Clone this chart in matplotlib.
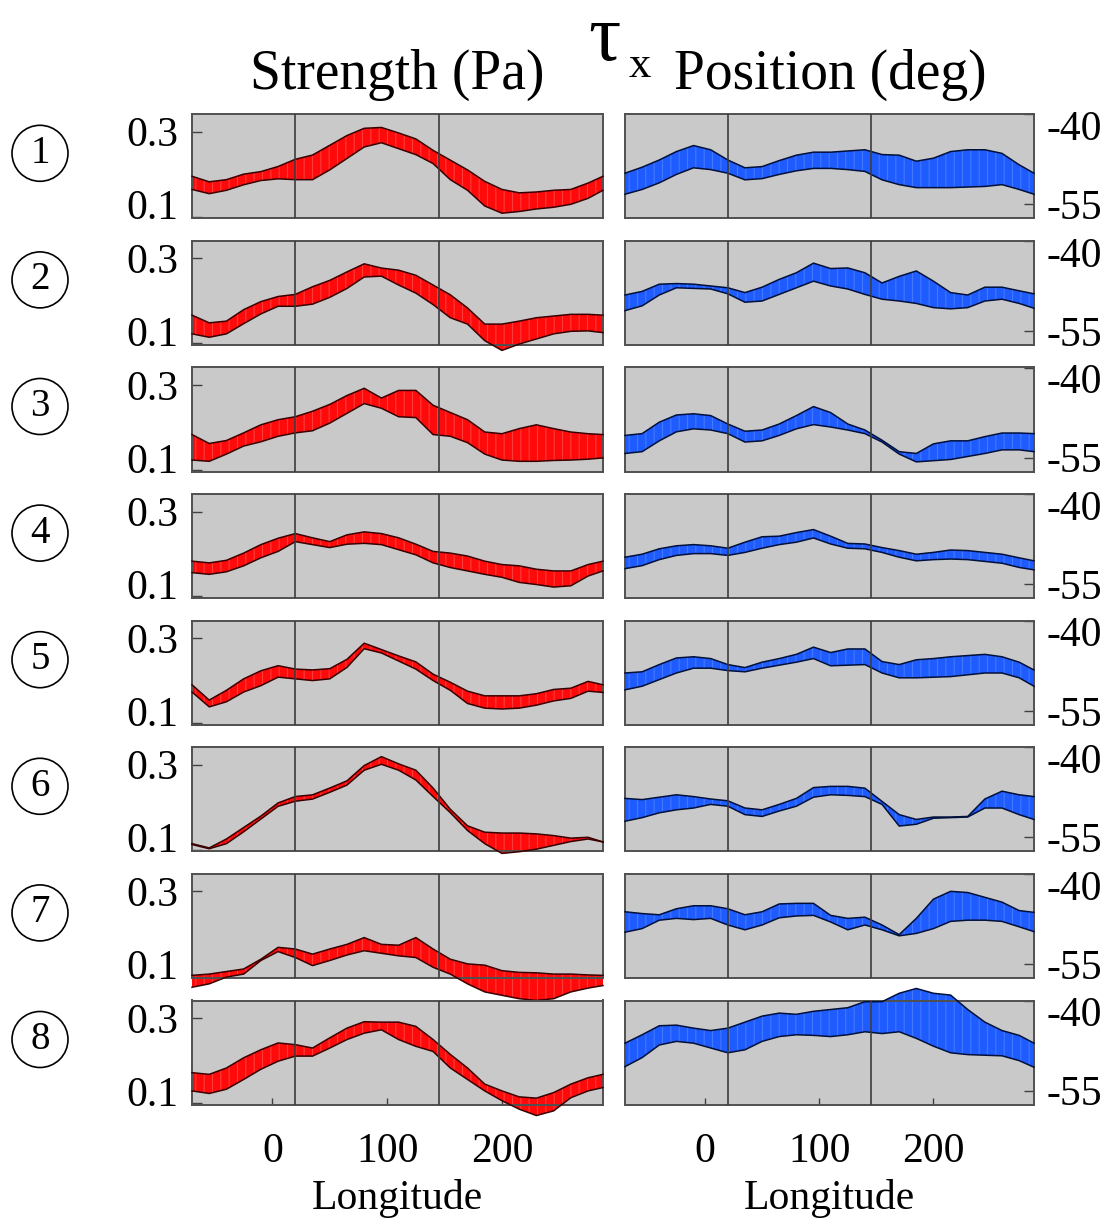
import matplotlib
matplotlib.use('Agg')
import matplotlib.pyplot as plt
from matplotlib.patches import Ellipse
from matplotlib.transforms import ScaledTranslation

plt.rcParams['font.family'] = ['Liberation Serif', 'DejaVu Serif']
plt.rcParams['hatch.linewidth'] = 0.8

# longitude grid (deg) at which the bands were read
lon = [-70, -55, -40, -25, -10, 5, 20, 35, 50, 65, 80, 95, 110, 125, 140,
       155, 170, 185, 200, 215, 230, 245, 260, 275, 288]

# tau_x strength (Pa): upper / lower edge of the band, rows 1..8
strength_hi = [
    [0.195, 0.182, 0.187, 0.200, 0.206, 0.218, 0.235, 0.245, 0.268, 0.291, 0.308, 0.310, 0.297, 0.283, 0.256, 0.233, 0.210, 0.183, 0.164, 0.156, 0.158, 0.162, 0.164, 0.179, 0.195],
    [0.166, 0.148, 0.152, 0.179, 0.198, 0.210, 0.215, 0.233, 0.248, 0.268, 0.287, 0.277, 0.272, 0.260, 0.237, 0.214, 0.183, 0.145, 0.145, 0.152, 0.160, 0.164, 0.168, 0.168, 0.166],
    [0.183, 0.162, 0.169, 0.187, 0.206, 0.218, 0.225, 0.238, 0.254, 0.275, 0.292, 0.269, 0.287, 0.287, 0.252, 0.235, 0.218, 0.189, 0.185, 0.197, 0.206, 0.197, 0.189, 0.185, 0.183],
    [0.183, 0.179, 0.185, 0.202, 0.222, 0.237, 0.248, 0.238, 0.229, 0.245, 0.252, 0.248, 0.238, 0.223, 0.206, 0.202, 0.195, 0.183, 0.175, 0.172, 0.164, 0.160, 0.160, 0.175, 0.183],
    [0.190, 0.154, 0.177, 0.204, 0.223, 0.235, 0.227, 0.225, 0.228, 0.250, 0.288, 0.273, 0.258, 0.244, 0.215, 0.196, 0.175, 0.164, 0.164, 0.164, 0.169, 0.179, 0.182, 0.198, 0.190],
    [0.114, 0.104, 0.125, 0.152, 0.179, 0.210, 0.225, 0.229, 0.245, 0.262, 0.298, 0.319, 0.302, 0.287, 0.245, 0.195, 0.156, 0.141, 0.139, 0.139, 0.137, 0.133, 0.127, 0.129, 0.118],
    [0.102, 0.105, 0.111, 0.117, 0.140, 0.168, 0.164, 0.152, 0.164, 0.175, 0.191, 0.175, 0.173, 0.191, 0.164, 0.140, 0.129, 0.126, 0.113, 0.109, 0.108, 0.105, 0.105, 0.103, 0.102],
    [0.171, 0.167, 0.182, 0.206, 0.225, 0.241, 0.237, 0.229, 0.253, 0.276, 0.291, 0.290, 0.290, 0.280, 0.249, 0.214, 0.182, 0.144, 0.128, 0.114, 0.111, 0.124, 0.144, 0.159, 0.167],
]
strength_lo = [
    [0.164, 0.154, 0.162, 0.175, 0.185, 0.189, 0.187, 0.187, 0.210, 0.237, 0.264, 0.274, 0.260, 0.246, 0.225, 0.187, 0.162, 0.125, 0.108, 0.112, 0.118, 0.122, 0.129, 0.143, 0.162],
    [0.122, 0.114, 0.122, 0.146, 0.169, 0.187, 0.187, 0.192, 0.208, 0.229, 0.256, 0.258, 0.237, 0.218, 0.191, 0.160, 0.145, 0.106, 0.083, 0.098, 0.110, 0.122, 0.128, 0.129, 0.125],
    [0.123, 0.120, 0.137, 0.156, 0.166, 0.179, 0.187, 0.192, 0.210, 0.233, 0.256, 0.245, 0.225, 0.223, 0.183, 0.179, 0.164, 0.137, 0.123, 0.120, 0.120, 0.122, 0.123, 0.125, 0.128],
    [0.156, 0.152, 0.158, 0.172, 0.191, 0.206, 0.229, 0.222, 0.215, 0.223, 0.225, 0.222, 0.210, 0.198, 0.179, 0.168, 0.160, 0.152, 0.145, 0.133, 0.128, 0.122, 0.125, 0.148, 0.160],
    [0.173, 0.138, 0.150, 0.173, 0.188, 0.208, 0.204, 0.200, 0.204, 0.231, 0.275, 0.265, 0.246, 0.227, 0.200, 0.177, 0.146, 0.135, 0.133, 0.135, 0.142, 0.152, 0.158, 0.175, 0.172],
    [0.112, 0.102, 0.114, 0.142, 0.172, 0.202, 0.214, 0.219, 0.235, 0.252, 0.287, 0.301, 0.287, 0.264, 0.225, 0.187, 0.145, 0.114, 0.091, 0.095, 0.101, 0.110, 0.119, 0.125, 0.118],
    [0.074, 0.082, 0.098, 0.105, 0.137, 0.158, 0.144, 0.125, 0.137, 0.150, 0.160, 0.154, 0.148, 0.144, 0.121, 0.105, 0.082, 0.063, 0.055, 0.047, 0.043, 0.047, 0.063, 0.072, 0.078],
    [0.128, 0.122, 0.132, 0.155, 0.179, 0.198, 0.210, 0.210, 0.229, 0.249, 0.264, 0.272, 0.249, 0.233, 0.221, 0.182, 0.155, 0.128, 0.105, 0.085, 0.070, 0.081, 0.112, 0.128, 0.136],
]

# tau_x position (deg latitude): upper / lower edge of the band, rows 1..8
position_hi = [
    [-49.8, -48.8, -47.6, -46.2, -45.2, -45.9, -47.6, -48.9, -48.7, -47.7, -46.8, -46.3, -46.3, -46.1, -45.9, -46.7, -46.8, -47.8, -47.3, -46.2, -45.9, -45.9, -46.5, -48.4, -49.8],
    [-49.0, -48.4, -47.2, -47.1, -47.2, -47.5, -47.8, -48.6, -47.7, -46.4, -45.3, -43.7, -44.6, -44.5, -45.3, -47.0, -45.9, -45.0, -46.7, -48.6, -49.0, -47.7, -47.7, -48.3, -48.8],
    [-51.3, -51.0, -49.1, -47.9, -47.7, -48.0, -49.4, -50.6, -50.4, -49.4, -48.0, -46.5, -47.5, -49.4, -50.4, -52.1, -54.0, -54.3, -52.7, -52.2, -52.2, -51.5, -50.9, -50.9, -51.0],
    [-50.5, -50.0, -49.1, -48.6, -48.4, -48.6, -49.0, -48.0, -47.1, -47.0, -46.4, -45.9, -47.0, -48.2, -48.3, -48.9, -49.4, -50.0, -49.7, -49.3, -49.4, -49.7, -50.0, -50.6, -51.1],
    [-48.7, -48.5, -47.3, -46.2, -46.0, -46.3, -47.3, -47.8, -46.9, -46.3, -45.6, -44.4, -45.3, -44.7, -44.7, -46.8, -47.3, -46.5, -46.3, -46.0, -45.8, -45.6, -46.0, -46.9, -48.2],
    [-48.5, -48.7, -48.3, -47.9, -48.2, -48.6, -48.9, -50.1, -50.4, -49.5, -48.5, -46.7, -46.5, -46.5, -46.8, -49.0, -51.2, -52.0, -51.6, -51.6, -51.5, -48.6, -47.3, -47.9, -48.2],
    [-46.3, -46.6, -46.8, -45.8, -45.3, -45.3, -45.8, -46.8, -46.3, -45.0, -44.9, -44.9, -46.9, -47.4, -47.2, -48.5, -50.1, -47.4, -44.2, -42.9, -43.1, -43.9, -44.7, -46.1, -46.4],
    [-47.1, -45.7, -44.2, -44.1, -44.6, -45.0, -44.6, -43.6, -42.6, -42.1, -42.3, -41.8, -41.5, -41.2, -40.2, -40.2, -38.8, -38.0, -38.8, -39.1, -41.5, -43.6, -45.0, -45.8, -47.1],
]
position_lo = [
    [-53.3, -52.5, -51.4, -50.0, -48.9, -49.2, -49.8, -50.9, -50.7, -50.0, -49.4, -49.0, -49.0, -49.2, -49.5, -50.9, -51.7, -52.2, -52.2, -52.2, -52.1, -52.0, -51.7, -52.5, -53.3],
    [-51.6, -50.8, -49.0, -47.8, -47.9, -48.0, -48.8, -50.2, -50.0, -48.9, -47.8, -46.7, -47.5, -48.0, -48.9, -49.7, -50.0, -50.4, -51.1, -51.3, -51.1, -50.0, -49.7, -50.4, -51.2],
    [-54.3, -54.0, -52.2, -50.7, -50.2, -50.4, -51.0, -52.4, -52.2, -51.3, -50.2, -49.5, -49.9, -50.4, -51.0, -52.4, -54.4, -55.7, -55.5, -55.3, -54.8, -54.3, -53.7, -53.7, -54.0],
    [-52.4, -51.9, -50.9, -50.2, -49.9, -49.9, -50.2, -49.7, -49.0, -48.4, -48.0, -47.3, -48.3, -49.0, -49.1, -49.7, -50.5, -51.1, -50.9, -50.8, -50.9, -51.2, -51.5, -52.2, -52.6],
    [-51.5, -50.9, -49.8, -48.7, -47.9, -47.9, -48.3, -48.5, -47.9, -47.4, -46.9, -46.3, -47.5, -47.4, -47.3, -48.7, -49.5, -49.5, -49.4, -49.3, -49.0, -48.7, -48.7, -49.5, -50.9],
    [-52.3, -51.7, -50.9, -50.4, -50.1, -49.5, -49.8, -51.2, -51.5, -50.6, -49.8, -48.3, -47.9, -48.0, -48.2, -49.5, -53.1, -52.8, -51.8, -51.7, -51.6, -50.1, -50.1, -51.2, -52.0],
    [-49.7, -49.1, -47.7, -47.4, -47.6, -47.4, -48.5, -49.3, -48.5, -47.3, -47.0, -46.9, -48.0, -49.3, -48.5, -49.3, -50.3, -49.9, -49.1, -47.9, -47.7, -47.7, -47.9, -48.8, -49.6],
    [-51.0, -49.5, -47.4, -46.8, -47.1, -47.9, -48.7, -48.2, -46.8, -46.0, -45.7, -45.8, -46.0, -45.7, -45.2, -45.5, -45.2, -46.3, -47.6, -48.7, -49.0, -49.1, -49.2, -50.0, -51.1],
]

row_names = ['1', '2', '3', '4', '5', '6', '7', '8']
ridges = [20, 145]
x_ticks = [0, 100, 200]

W, H = 1114, 1224
fig = plt.figure(figsize=(W / 100, H / 100), dpi=100)


def draw_band(ax, hi, lo, face, stripe, edge):
    ax.fill_between(lon, lo, hi, facecolor=face, edgecolor=stripe, hatch='||',
                    linewidth=0, clip_on=False, zorder=2)
    ax.plot(lon, hi, color=edge, lw=1.1, clip_on=False, zorder=3)
    ax.plot(lon, lo, color=edge, lw=1.1, clip_on=False, zorder=3)


def base_style(ax, last):
    ax.set_facecolor('#c9c9c9')
    for s in ax.spines.values():
        s.set_color('#505050')
        s.set_linewidth(1.4)
    for r in ridges:
        ax.axvline(r, color='#3c3c3c', lw=1.2, zorder=4)
    ax.set_xlim(-70, 288)
    if last:
        ax.set_xticks(x_ticks)
        ax.tick_params(axis='x', direction='in', length=5, width=1, color='#404040',
                       labelsize=30, pad=20)
        ax.set_xlabel('Longitude', fontsize=30, labelpad=6)
    else:
        ax.tick_params(axis='x', bottom=False, labelbottom=False)


def shift_label(ax, text, dy_px):
    for lab in ax.get_yticklabels():
        if lab.get_text() == text:
            lab.set_transform(lab.get_transform() +
                              ScaledTranslation(0, dy_px / 100, fig.dpi_scale_trans))


for i in range(8):
    top = 114.3 + 126.6 * i
    h = 104
    y0 = 1 - (top + h) / H
    last = (i == 7)

    axL = fig.add_axes([192 / W, y0, 411 / W, h / H])
    base_style(axL, last)
    draw_band(axL, strength_hi[i], strength_lo[i], '#ff0a0a', '#ff3c3c', '#3a0000')
    axL.set_ylim(0.096, 0.341)
    axL.set_yticks([0.1, 0.3])
    axL.set_yticklabels(['0.1', '0.3'])
    axL.tick_params(axis='y', direction='in', length=7, width=1, color='#404040',
                    labelsize=30, pad=10)
    shift_label(axL, '0.1', 12)

    axR = fig.add_axes([625 / W, y0, 409 / W, h / H])
    base_style(axR, last)
    draw_band(axR, position_hi[i], position_lo[i], '#1f5cff', '#4478ff', '#00103a')
    axR.set_ylim(-57.3, -40)
    axR.set_yticks([-55, -40])
    axR.set_yticklabels(['-55', '-40'])
    axR.yaxis.tick_right()
    axR.tick_params(axis='y', direction='in', length=7, width=1, color='#404040',
                    labelsize=30, pad=9)
    shift_label(axR, '-40', -11)

    # row number in a circle
    cy = 1 - (top + 39) / H
    fig.add_artist(Ellipse((40 / W, cy), 56 / W, 56 / H, transform=fig.transFigure,
                           facecolor='white', edgecolor='black', lw=1.2))
    fig.text(40 / W, cy, row_names[i], ha='center', va='center', fontsize=28)

fig.text(397 / W, 1 - 75 / H, 'Strength (Pa)', ha='center', va='center', fontsize=40)
fig.text(830 / W, 1 - 75 / H, 'Position (deg)', ha='center', va='center', fontsize=40)
fig.text(604 / W, 1 - 60 / H, 'τ', ha='center', va='baseline', fontsize=58)
fig.text(640 / W, 1 - 66 / H, 'x', ha='center', va='center', fontsize=32)

fig.savefig('out.png', dpi=100)
